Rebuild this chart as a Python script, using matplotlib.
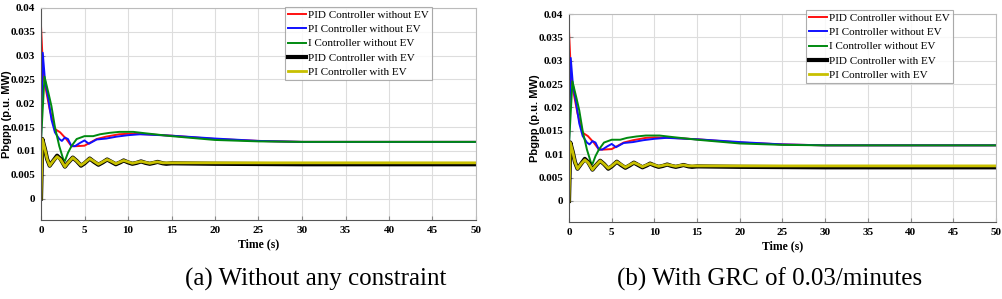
import numpy as np
import matplotlib
matplotlib.use("Agg")
import matplotlib.pyplot as plt

# 读图得到的数据点 (时间 s, Pbgpp p.u. MW)
t_pid = [0, 0.27, 1.0, 1.6, 2.2, 2.9, 3.5, 4.1, 5.0, 5.6, 6.4, 7.5, 9.0, 10.0, 12.0, 15.0, 20.0, 25.0, 30.0, 50.0]
v_pid = [0.0363, 0.0257, 0.0187, 0.0146, 0.0139, 0.0125, 0.0110, 0.0110, 0.0111, 0.0117, 0.0125, 0.0130, 0.0135, 0.0136, 0.0135, 0.0132, 0.0125, 0.0121, 0.0119, 0.0119]

t_pi = [0, 0.2, 0.45, 0.85, 1.2, 1.6, 2.1, 2.4, 2.75, 3.1, 3.5, 3.9, 4.5, 5.0, 5.5, 6.4, 7.5, 8.7, 10.0, 11.4, 15.0, 20.0, 25.0, 30.0, 50.0]
v_pi = [0.0120, 0.0306, 0.0250, 0.0208, 0.0166, 0.0139, 0.0125, 0.0121, 0.0128, 0.0125, 0.0110, 0.0110, 0.0117, 0.0122, 0.0115, 0.0124, 0.0126, 0.0130, 0.0133, 0.0135, 0.0132, 0.0126, 0.0121, 0.0119, 0.0119]

t_i = [0, 0.4, 0.85, 1.2, 1.6, 2.1, 2.55, 2.75, 3.1, 3.5, 4.1, 5.0, 6.0, 6.8, 7.9, 9.0, 10.6, 12.0, 15.0, 20.0, 25.0, 30.0, 50.0]
v_i = [0.0120, 0.0256, 0.0222, 0.0194, 0.0150, 0.0110, 0.0083, 0.0079, 0.0096, 0.0110, 0.0125, 0.0131, 0.0131, 0.0135, 0.0138, 0.0140, 0.0140, 0.0137, 0.0131, 0.0123, 0.0120, 0.0119, 0.0119]

t_ev = [0, 0.15, 0.45, 0.7, 1.0, 1.4, 1.85, 2.25, 2.75, 3.05, 3.65, 4.1, 4.6, 5.0, 5.6, 6.1, 6.6, 7.1, 7.6, 8.1, 8.6, 9.1, 9.5, 10.0, 10.5, 11.0,
        11.5, 12.0, 12.5, 13.0, 13.4, 14.0, 14.4, 15.0, 20.0, 30.0, 50.0]
v_pid_ev = [0.0, 0.0125, 0.0104, 0.0083, 0.0069, 0.0079, 0.0090, 0.0083, 0.0067, 0.0074, 0.0086, 0.0079, 0.0069, 0.0074, 0.0084, 0.0077, 0.0071,
            0.0076, 0.0082, 0.0077, 0.0072, 0.0076, 0.0080, 0.0076, 0.0073, 0.0075, 0.0078, 0.0075, 0.0073, 0.0075, 0.0077, 0.0074, 0.0073,
            0.0074, 0.0073, 0.0072, 0.0072]
v_pi_ev = [0.0, 0.0125, 0.0104, 0.0083, 0.0069, 0.0079, 0.0088, 0.0082, 0.0067, 0.0074, 0.0086, 0.0079, 0.0070, 0.0075, 0.0084, 0.0078, 0.0072,
           0.0077, 0.0082, 0.0078, 0.0073, 0.0077, 0.0080, 0.0077, 0.0074, 0.0076, 0.0078, 0.0076, 0.0074, 0.0076, 0.0077, 0.0075, 0.0075,
           0.0075, 0.0075, 0.0075, 0.0075]

labels = ["PID Controller without EV", "PI Controller without EV", "I Controller without EV",
          "PID Controller with EV", "PI Controller with EV"]
captions = ["(a) Without any constraint", "(b) With GRC of 0.03/minutes"]
xticks = [0, 5, 10, 15, 20, 25, 30, 35, 40, 45, 50]
yticks = [0, 0.005, 0.01, 0.015, 0.02, 0.025, 0.03, 0.035, 0.04]
ytick_labels = ["0", "0.005", "0.01", "0.015", "0.02", "0.025", "0.03", "0.035", "0.04"]

fig = plt.figure(figsize=(10.03, 2.99), dpi=100)
W, H = 1003, 299
# 两个子图的位置 (像素)
boxes = [(41, 476, 8, 220), (569, 996, 14, 222)]
ylab_x = [12, 540]
leg_tops = [1.005, 1.02]

for k, (x0, x1, y0, y1) in enumerate(boxes):
    ax = fig.add_axes([x0 / W, 1 - y1 / H, (x1 - x0) / W, (y1 - y0) / H])
    ax.plot(t_pid, v_pid, color="#ff1010", lw=1.4, label=labels[0])
    ax.plot(t_pi, v_pi, color="#1010ff", lw=1.4, label=labels[1])
    ax.plot(t_i, v_i, color="#008a10", lw=1.4, label=labels[2])
    ax.plot(t_ev, v_pid_ev, color="black", lw=3.0, label=labels[3])
    ax.plot(t_ev, v_pi_ev, color="#c8c000", lw=2.0, label=labels[4])

    ax.set_xlim(0, 50)
    ax.set_ylim(-0.0045, 0.04)
    ax.set_xticks(xticks)
    ax.set_yticks(yticks)
    ax.set_yticklabels(ytick_labels)
    for lab in ax.get_xticklabels() + ax.get_yticklabels():
        lab.set_fontfamily("Liberation Serif")
        lab.set_fontweight("bold")
        lab.set_fontsize(8)
    ax.tick_params(direction="in", length=3, color="#888888", pad=4)
    ax.grid(True, color="#dddddd", lw=0.8)
    for s in ["top", "right"]:
        ax.spines[s].set_color("#bbbbbb")
    for s in ["left", "bottom"]:
        ax.spines[s].set_color("#555555")

    ax.set_xlabel("Time (s)", fontfamily="Liberation Serif", fontweight="bold", fontsize=8.5, labelpad=3)
    ax.set_ylabel("Pbgpp (p.u. MW)", fontfamily="Liberation Sans", fontweight="bold", fontsize=8)
    ax.yaxis.set_label_coords(-(x0 - ylab_x[k]) / (x1 - x0), 0.5)

    leg = ax.legend(loc="upper right", bbox_to_anchor=(0.9, leg_tops[k]), borderaxespad=0,
                    prop={"family": "Liberation Serif", "size": 8}, fancybox=False,
                    borderpad=0.3, labelspacing=0.4, handlelength=1.6, handletextpad=0.2)
    leg.get_frame().set_edgecolor("#999999")
    leg.get_frame().set_linewidth(0.8)

fig.text(316 / W, 1 - 279 / H, captions[0], ha="center", va="center", fontfamily="Liberation Serif", fontsize=18)
fig.text(770 / W, 1 - 279 / H, captions[1], ha="center", va="center", fontfamily="Liberation Serif", fontsize=18)

fig.savefig("out.png", dpi=100)
